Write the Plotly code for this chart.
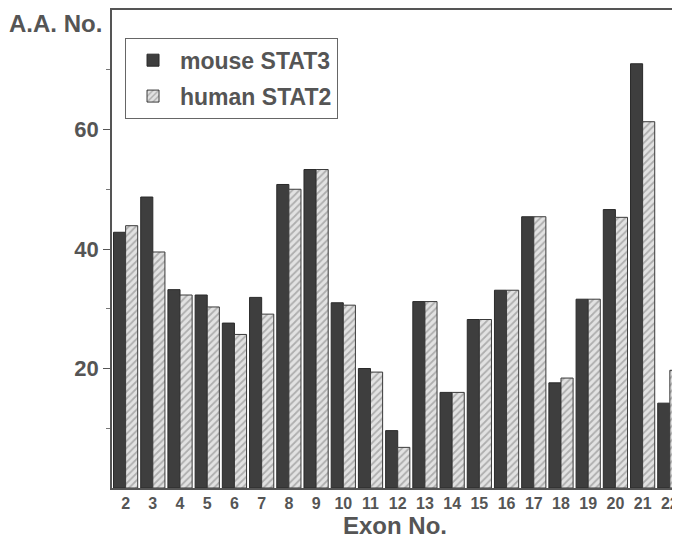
import plotly.graph_objects as go

exons = list(range(2, 23))
tick_labels = [str(e) for e in exons]
mouse_stat3 = [42.8, 48.7, 33.2, 32.3, 27.6, 31.9, 50.8, 53.3, 31.0, 20.0, 9.6,
               31.2, 16.0, 28.2, 33.1, 45.4, 17.6, 31.6, 46.6, 71.0, 14.2]
human_stat2 = [43.9, 39.5, 32.3, 30.3, 25.7, 29.1, 50.0, 53.3, 30.6, 19.4, 6.8,
               31.2, 16.0, 28.2, 33.1, 45.4, 18.4, 31.6, 45.3, 61.3, 19.7]

TXT = "#555555"
FONT = "Liberation Sans, Arial, sans-serif"

fig = go.Figure()
fig.add_trace(go.Bar(
    x=exons, y=mouse_stat3, name="mouse STAT3", legendgroup="a",
    marker=dict(color="#3e3e3e", line=dict(color="#2a2a2a", width=1)),
))
fig.add_trace(go.Bar(
    x=exons, y=human_stat2, name="human STAT2", legendgroup="b",
    marker=dict(color="#dcdcdc", line=dict(color="#3a3a3a", width=1),
                pattern=dict(shape="/", fgcolor="#7a7a7a", bgcolor="#e2e2e2",
                             size=5, solidity=0.35)),
))

# page body has an 8px margin, so the figure is sized to fill the rest of the window
fig.update_layout(
    width=672, height=533,
    margin=dict(l=104, r=0, t=0, b=53),
    paper_bgcolor="white", plot_bgcolor="white",
    barmode="group", bargap=0.11, bargroupgap=0.0,
    font=dict(family=FONT, color=TXT, size=20, weight="bold"),
    showlegend=True,
    legend=dict(x=0.023, y=0.942, xanchor="left", yanchor="top",
                bordercolor="#666666", borderwidth=1, bgcolor="white",
                font=dict(size=23, color=TXT, family=FONT, weight="bold"),
                tracegroupgap=3, traceorder="grouped", itemwidth=44),
    xaxis=dict(
        range=[1.5, 22.3], tickmode="array", tickvals=exons, ticktext=tick_labels,
        showgrid=False, zeroline=False, showline=True, linecolor="#555555",
        linewidth=1.5, mirror=True, ticks="",
        tickfont=dict(size=16, color=TXT, family=FONT, weight="bold"),
        title=dict(text="Exon No.", standoff=6,
                   font=dict(size=24, color=TXT, family=FONT, weight="bold")),
    ),
    yaxis=dict(
        range=[0, 80], tickvals=[20, 40, 60], showgrid=False, zeroline=False,
        showline=True, linecolor="#555555", linewidth=1.5, mirror=True,
        ticks="outside", ticklen=7, tickcolor="#555555",
        minor=dict(tickvals=[10, 30, 50, 70], ticks="outside", ticklen=4,
                   tickcolor="#777777"),
        tickfont=dict(size=22, color=TXT, family=FONT, weight="bold"),
    ),
)

fig.add_annotation(text="A.A. No.", xref="paper", yref="paper",
                   x=-0.1, y=0.971, xanchor="center", yanchor="middle",
                   showarrow=False,
                   font=dict(size=24, color=TXT, family=FONT, weight="bold"))

fig.write_html("out.html")
